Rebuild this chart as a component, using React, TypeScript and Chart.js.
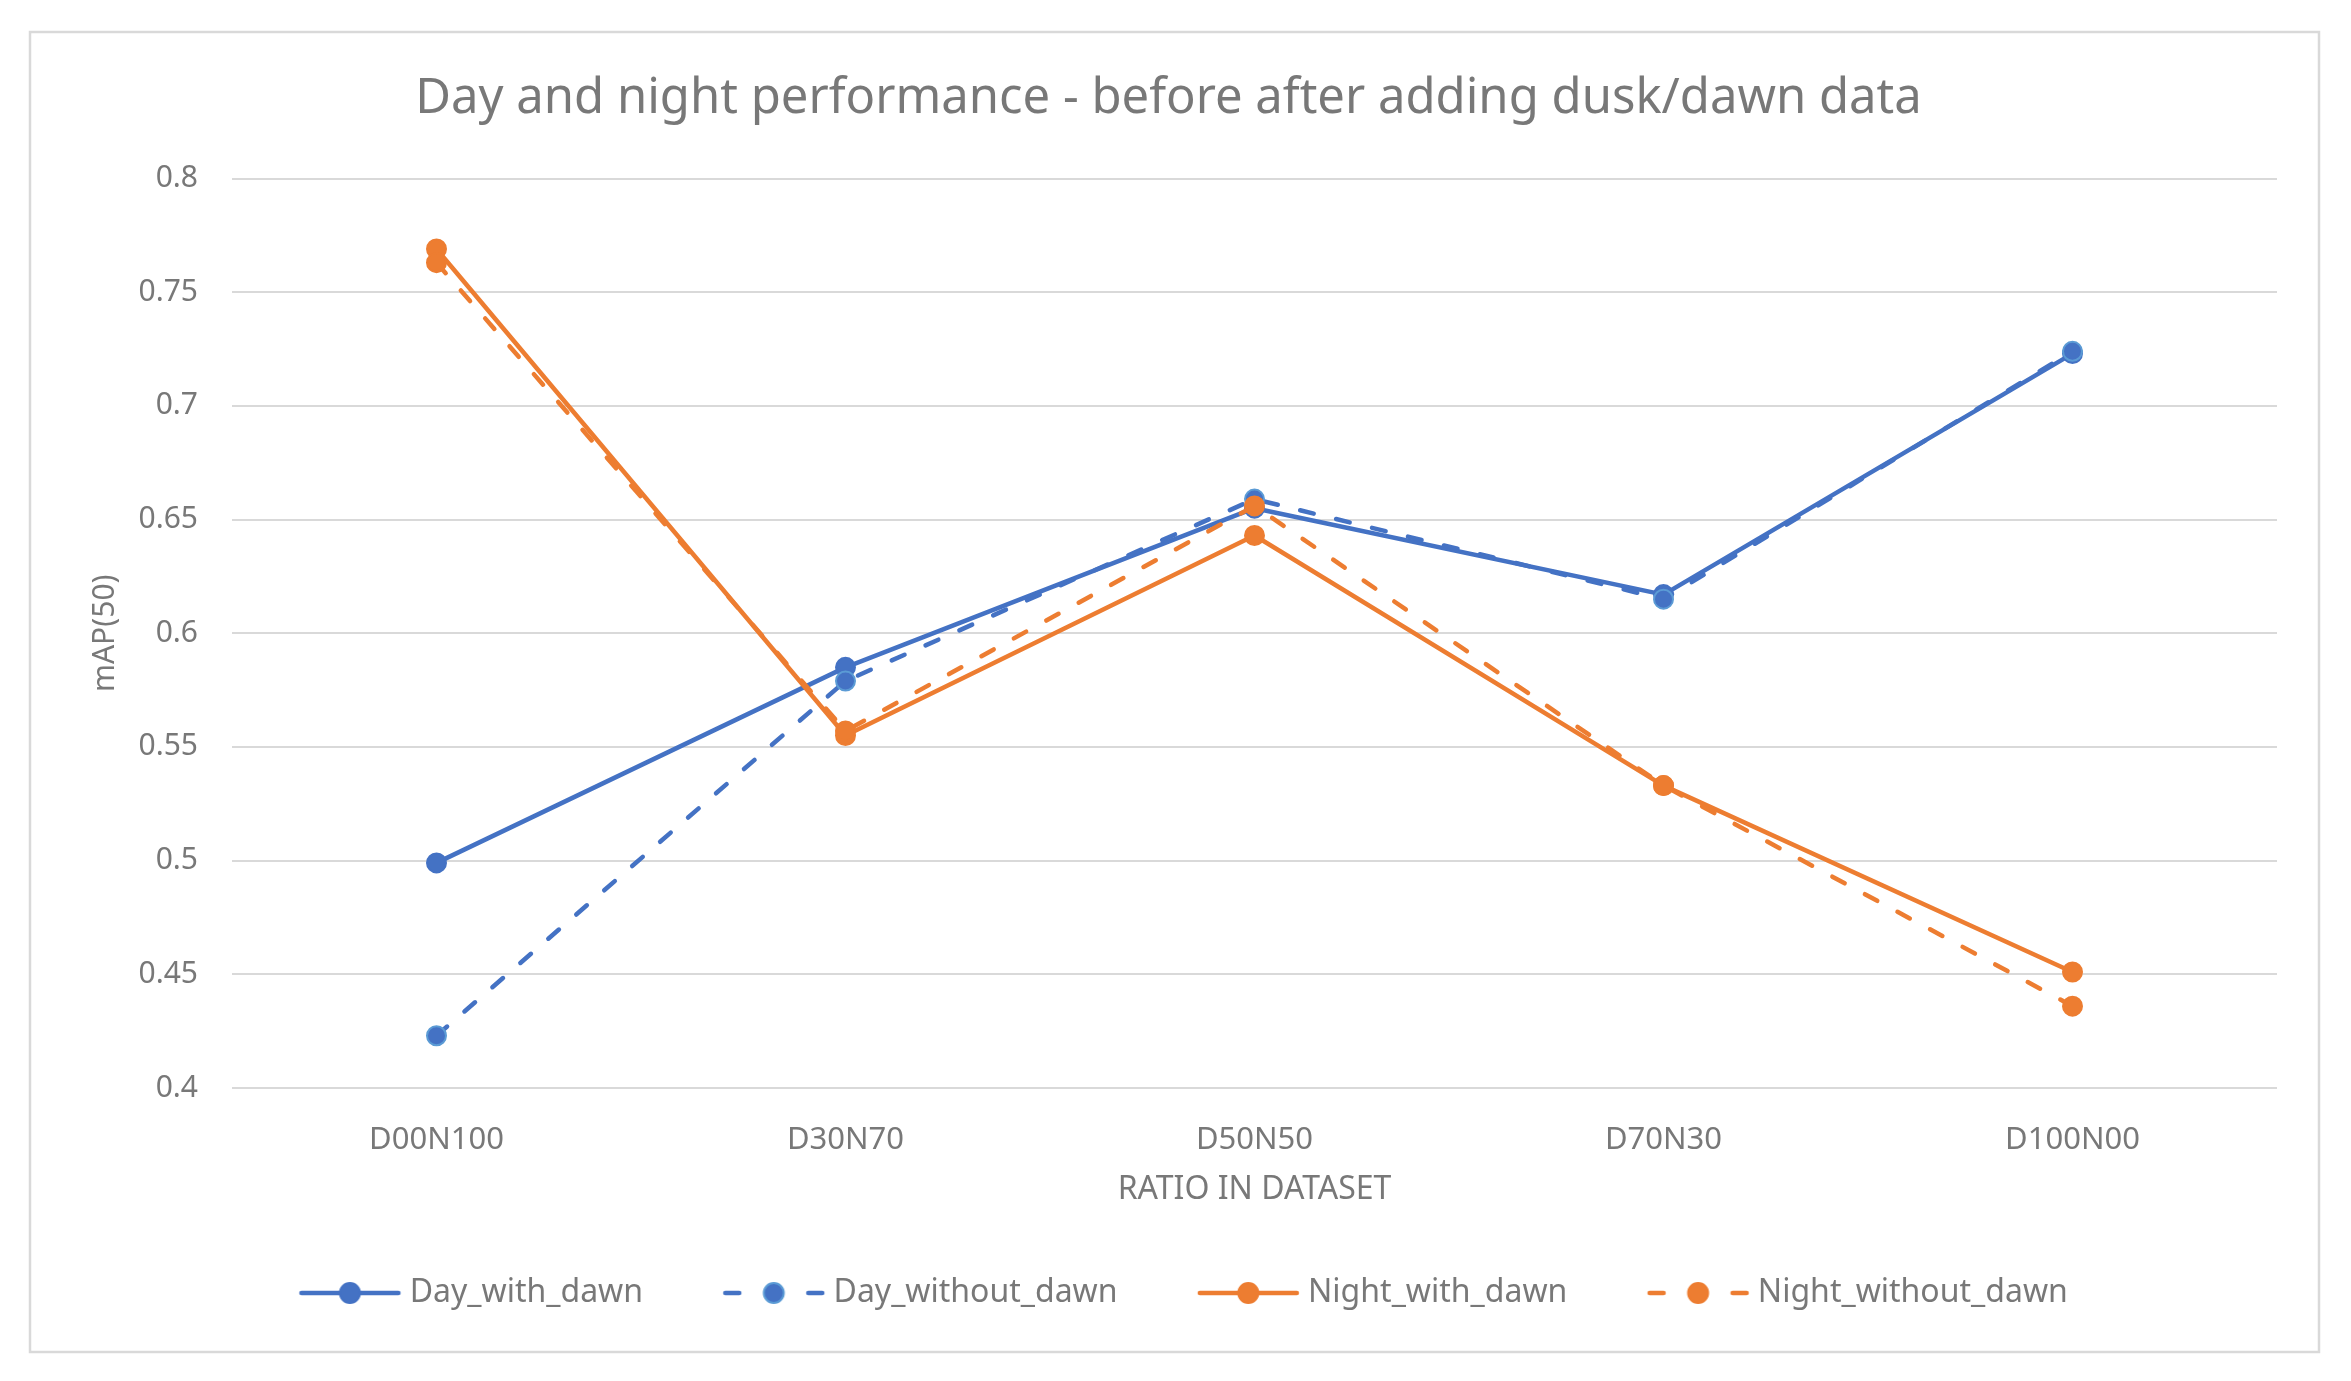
import React, { useEffect, useRef } from 'react';
import Chart from 'chart.js/auto';

const categories = ['D00N100', 'D30N70', 'D50N50', 'D70N30', 'D100N00'];
const dayWithDawn = [0.499, 0.585, 0.655, 0.617, 0.723];
const dayWithoutDawn = [0.423, 0.579, 0.659, 0.615, 0.724];
const nightWithDawn = [0.769, 0.555, 0.643, 0.533, 0.451];
const nightWithoutDawn = [0.763, 0.557, 0.656, 0.533, 0.436];
const seriesNames = ['Day_with_dawn', 'Day_without_dawn', 'Night_with_dawn', 'Night_without_dawn'];
const yMin = 0.4;
const yMax = 0.8;
const yStep = 0.05;
const chartTitle = 'Day and night performance - before after adding dusk/dawn data';
const xTitle = 'RATIO IN DATASET';
const yTitle = 'mAP(50)';

const BLUE = '#4472C4';
const LIGHT_BLUE = '#5B9BD5';
const ORANGE = '#ED7D31';
const TEXT = '#787878';
const GRID = '#d9d9d9';
const FONT = "'Noto Sans', 'Open Sans', sans-serif";

const LEG_FONT = 32;
const LEG_PAD = 50;
const LEG_BOX = 124.5;

function makeLegendImage(color: string, markerFill: string, markerBorder: string, dashed: boolean) {
  const W = Math.round(LEG_BOX + LEG_FONT / 2 + 1);
  const H = 26;
  const c = document.createElement('canvas');
  c.width = W;
  c.height = H;
  const ctx = c.getContext('2d')!;
  const x0 = W - 103;
  const x1 = W - 2;
  const cy = H / 2;
  ctx.strokeStyle = color;
  ctx.lineWidth = 4.5;
  ctx.lineCap = 'round';
  ctx.beginPath();
  if (dashed) {
    ctx.moveTo(x0 + 2, cy);
    ctx.lineTo(x0 + 16, cy);
    ctx.moveTo(x1 - 16, cy);
    ctx.lineTo(x1 - 2, cy);
  } else {
    ctx.moveTo(x0 + 2, cy);
    ctx.lineTo(x1 - 2, cy);
  }
  ctx.stroke();
  const mx = (x0 + x1) / 2;
  ctx.beginPath();
  ctx.arc(mx, cy, 10, 0, Math.PI * 2);
  ctx.fillStyle = markerFill;
  ctx.fill();
  ctx.lineWidth = 2;
  ctx.strokeStyle = markerBorder;
  ctx.stroke();
  return c;
}

const borderPlugin = {
  id: 'outerBorder',
  beforeDraw(chart: any) {
    const ctx = chart.ctx;
    ctx.save();
    ctx.fillStyle = '#ffffff';
    ctx.fillRect(0, 0, chart.width, chart.height);
    ctx.strokeStyle = GRID;
    ctx.lineWidth = 2.5;
    ctx.strokeRect(30, 32, 2289, 1320);
    ctx.restore();
  },
};

export default function App() {
  const ref = useRef<HTMLCanvasElement | null>(null);
  useEffect(() => {
    document.body.style.margin = '0';
    const canvas = ref.current!;
    const images = [
      makeLegendImage(BLUE, BLUE, BLUE, false),
      makeLegendImage(BLUE, BLUE, LIGHT_BLUE, true),
      makeLegendImage(ORANGE, ORANGE, ORANGE, false),
      makeLegendImage(ORANGE, ORANGE, ORANGE, true),
    ];
    const dash = [14, 23];
    const common = {
      borderWidth: 4.5,
      pointRadius: 9.5,
      pointHoverRadius: 9.5,
      pointBorderWidth: 2,
      tension: 0,
      fill: false,
      borderCapStyle: 'round' as const,
      borderJoinStyle: 'round' as const,
    };
    const chart = new Chart(canvas, {
      type: 'line',
      data: {
        labels: categories,
        datasets: [
          {
            ...common,
            label: seriesNames[0],
            data: dayWithDawn,
            borderColor: BLUE,
            backgroundColor: BLUE,
            pointBackgroundColor: BLUE,
            pointBorderColor: BLUE,
            order: 4,
          },
          {
            ...common,
            label: seriesNames[1],
            data: dayWithoutDawn,
            borderColor: BLUE,
            backgroundColor: BLUE,
            borderDash: dash,
            pointBackgroundColor: BLUE,
            pointBorderColor: LIGHT_BLUE,
            order: 3,
          },
          {
            ...common,
            label: seriesNames[2],
            data: nightWithDawn,
            borderColor: ORANGE,
            backgroundColor: ORANGE,
            pointBackgroundColor: ORANGE,
            pointBorderColor: ORANGE,
            order: 2,
          },
          {
            ...common,
            label: seriesNames[3],
            data: nightWithoutDawn,
            borderColor: ORANGE,
            backgroundColor: ORANGE,
            borderDash: dash,
            pointBackgroundColor: ORANGE,
            pointBorderColor: ORANGE,
            order: 1,
          },
        ],
      },
      options: {
        responsive: false,
        animation: false,
        devicePixelRatio: 1,
        layout: { padding: { left: 60, right: 74, top: 0, bottom: 62 } },
        plugins: {
          title: {
            display: true,
            text: chartTitle,
            color: TEXT,
            font: { family: FONT, size: 49, weight: 'normal' },
            padding: { top: 70, bottom: 49.7 },
          },
          legend: {
            position: 'bottom',
            labels: {
              usePointStyle: true,
              pointStyleWidth: LEG_BOX,
              padding: LEG_PAD,
              color: TEXT,
              font: { family: FONT, size: LEG_FONT },
              sort: (a: any, b: any) => a.datasetIndex - b.datasetIndex,
              generateLabels: (ch: any) => {
                const items = (Chart.defaults.plugins.legend.labels as any).generateLabels(ch);
                return items.map((it: any) => ({ ...it, pointStyle: images[it.datasetIndex] }));
              },
            },
          },
          tooltip: { enabled: false },
        },
        scales: {
          x: {
            offset: true,
            grid: { display: false },
            border: { display: false },
            ticks: { color: TEXT, font: { family: FONT, size: 31 }, padding: 26, maxRotation: 0 },
            title: {
              display: true,
              text: xTitle,
              color: TEXT,
              font: { family: FONT, size: 32 },
              padding: { top: 0, bottom: 18 },
            },
            afterFit: (scale: any) => {
              scale.height = 139;
            },
          },
          y: {
            min: yMin,
            max: yMax,
            grid: { color: GRID, lineWidth: 2, drawTicks: false },
            border: { display: false },
            ticks: {
              stepSize: yStep,
              color: TEXT,
              font: { family: FONT, size: 30 },
              padding: 34,
              callback: (v: any) => String(Number(Number(v).toFixed(2))),
            },
            title: {
              display: true,
              text: yTitle,
              color: TEXT,
              font: { family: FONT, size: 30 },
              padding: { top: 27, bottom: 0 },
            },
            afterFit: (scale: any) => {
              scale.width = 172;
            },
          },
        },
      },
      plugins: [borderPlugin],
    });
    return () => chart.destroy();
  }, []);
  return <canvas ref={ref} width={2351} height={1381} style={{ display: 'block', width: 2351, height: 1381 }} />;
}
